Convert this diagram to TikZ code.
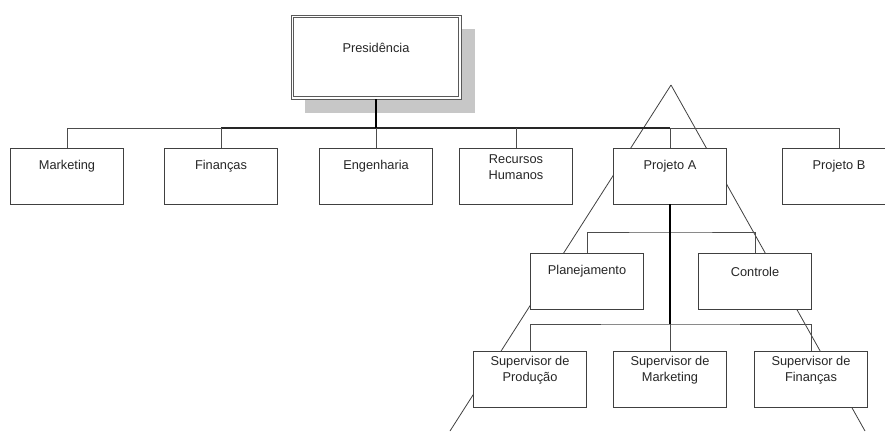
\documentclass[tikz,border=0pt]{standalone}
\usepackage{fontspec}
\setmainfont{Liberation Sans}
\begin{document}
\begin{tikzpicture}[x=1pt,y=-1pt,
  box/.style={draw=black!75, line width=0.9pt, fill=white, minimum width=113pt, minimum height=56pt, inner sep=0pt},
  txt/.style={font=\fontsize{12.8}{16}\selectfont, text=black!85, align=center, inner sep=0pt},
  conn/.style={draw=black!70, line width=0.8pt},
  bold/.style={draw=black, line width=1.6pt},
  tri/.style={draw=black!75, line width=0.8pt},
  pbox/.style={draw=black!65, line width=0.9pt, fill=white, minimum width=170pt, minimum height=84pt, inner sep=0pt}]
\useasboundingbox (0,0) rectangle (885,431);
\clip (0,0) rectangle (885,431);
% shadow and presidency
\fill[black!22] (305,29) rectangle (475,113);
\node[pbox] (pres) at (376,57) {};
\draw[black!65, line width=0.9pt] ([shift={(3.2pt,-3.2pt)}]pres.north west) rectangle ([shift={(-3.2pt,3.2pt)}]pres.south east);
\node[txt] (prest) at (376,48) {Presidência};
% triangle apex and ends
\coordinate (apex) at (671,85);
\coordinate (lend) at (450,431);
\coordinate (rend) at (865,431);
\draw[tri] (apex) -- (lend);
\draw[tri] (apex) -- (rend);
% top level bus
\coordinate (bus) at (376,128);
\coordinate (busL) at (67,128);
\coordinate (busR) at (839,128);
\draw[conn] (busL) -- (busR);
\draw[line width=1.2pt, black!85] (221,128) -- (670,128);
% first row
\node[box] (mkt) at (67,176) {};
\node[box] (fin) at (221,176) {};
\node[box] (eng) at (376,176) {};
\node[box] (rh) at (516,176) {};
\node[box] (pa) at (670,176) {};
\node[box] (pb) at (839,176) {};
\foreach \n in {mkt,fin,eng,rh,pa,pb} \draw[conn] (\n.north) -- (\n.north |- bus);
\draw[bold] (pres.south) -- (bus);
\node[txt] (mktt) at ([yshift=-19pt]mkt.north) {Marketing};
\node[txt] (fint) at ([yshift=-19pt]fin.north) {Finanças};
\node[txt] (engt) at ([yshift=-19pt]eng.north) {Engenharia};
\node[txt] (rht) at ([yshift=-20pt]rh.north) {Recursos\\Humanos};
\node[txt] (pat) at ([yshift=-19pt]pa.north) {Projeto A};
\node[txt] (pbt) at ([yshift=-19pt]pb.north) {Projeto B};
% second row
\coordinate (bus2) at (670,232);
\coordinate (bus3) at (670,324);
\node[box] (plan) at (587,281) {};
\node[box] (ctrl) at (755,281) {};
\draw[conn] (plan.north) |- (bus2) -| (ctrl.north);
\node[txt] (plant) at ([yshift=-19pt]plan.north) {Planejamento};
\node[txt] (ctrlt) at ([yshift=-19pt]ctrl.north) {Controle};
% third row
\node[box] (sp) at (530,379) {};
\node[box] (sm) at (670,379) {};
\node[box] (sf) at (811,379) {};
\draw[conn] (sp.north) |- (bus3) -| (sf.north);
\draw[conn] (bus3) -- (sm.north);
\draw[bold] (pa.south) -- (bus3);
\node[txt] (spt) at ([yshift=-20pt]sp.north) {Supervisor de\\Produção};
\node[txt] (smt) at ([yshift=-20pt]sm.north) {Supervisor de\\Marketing};
\node[txt] (sft) at ([yshift=-20pt]sf.north) {Supervisor de\\Finanças};
\end{tikzpicture}
\end{document}
